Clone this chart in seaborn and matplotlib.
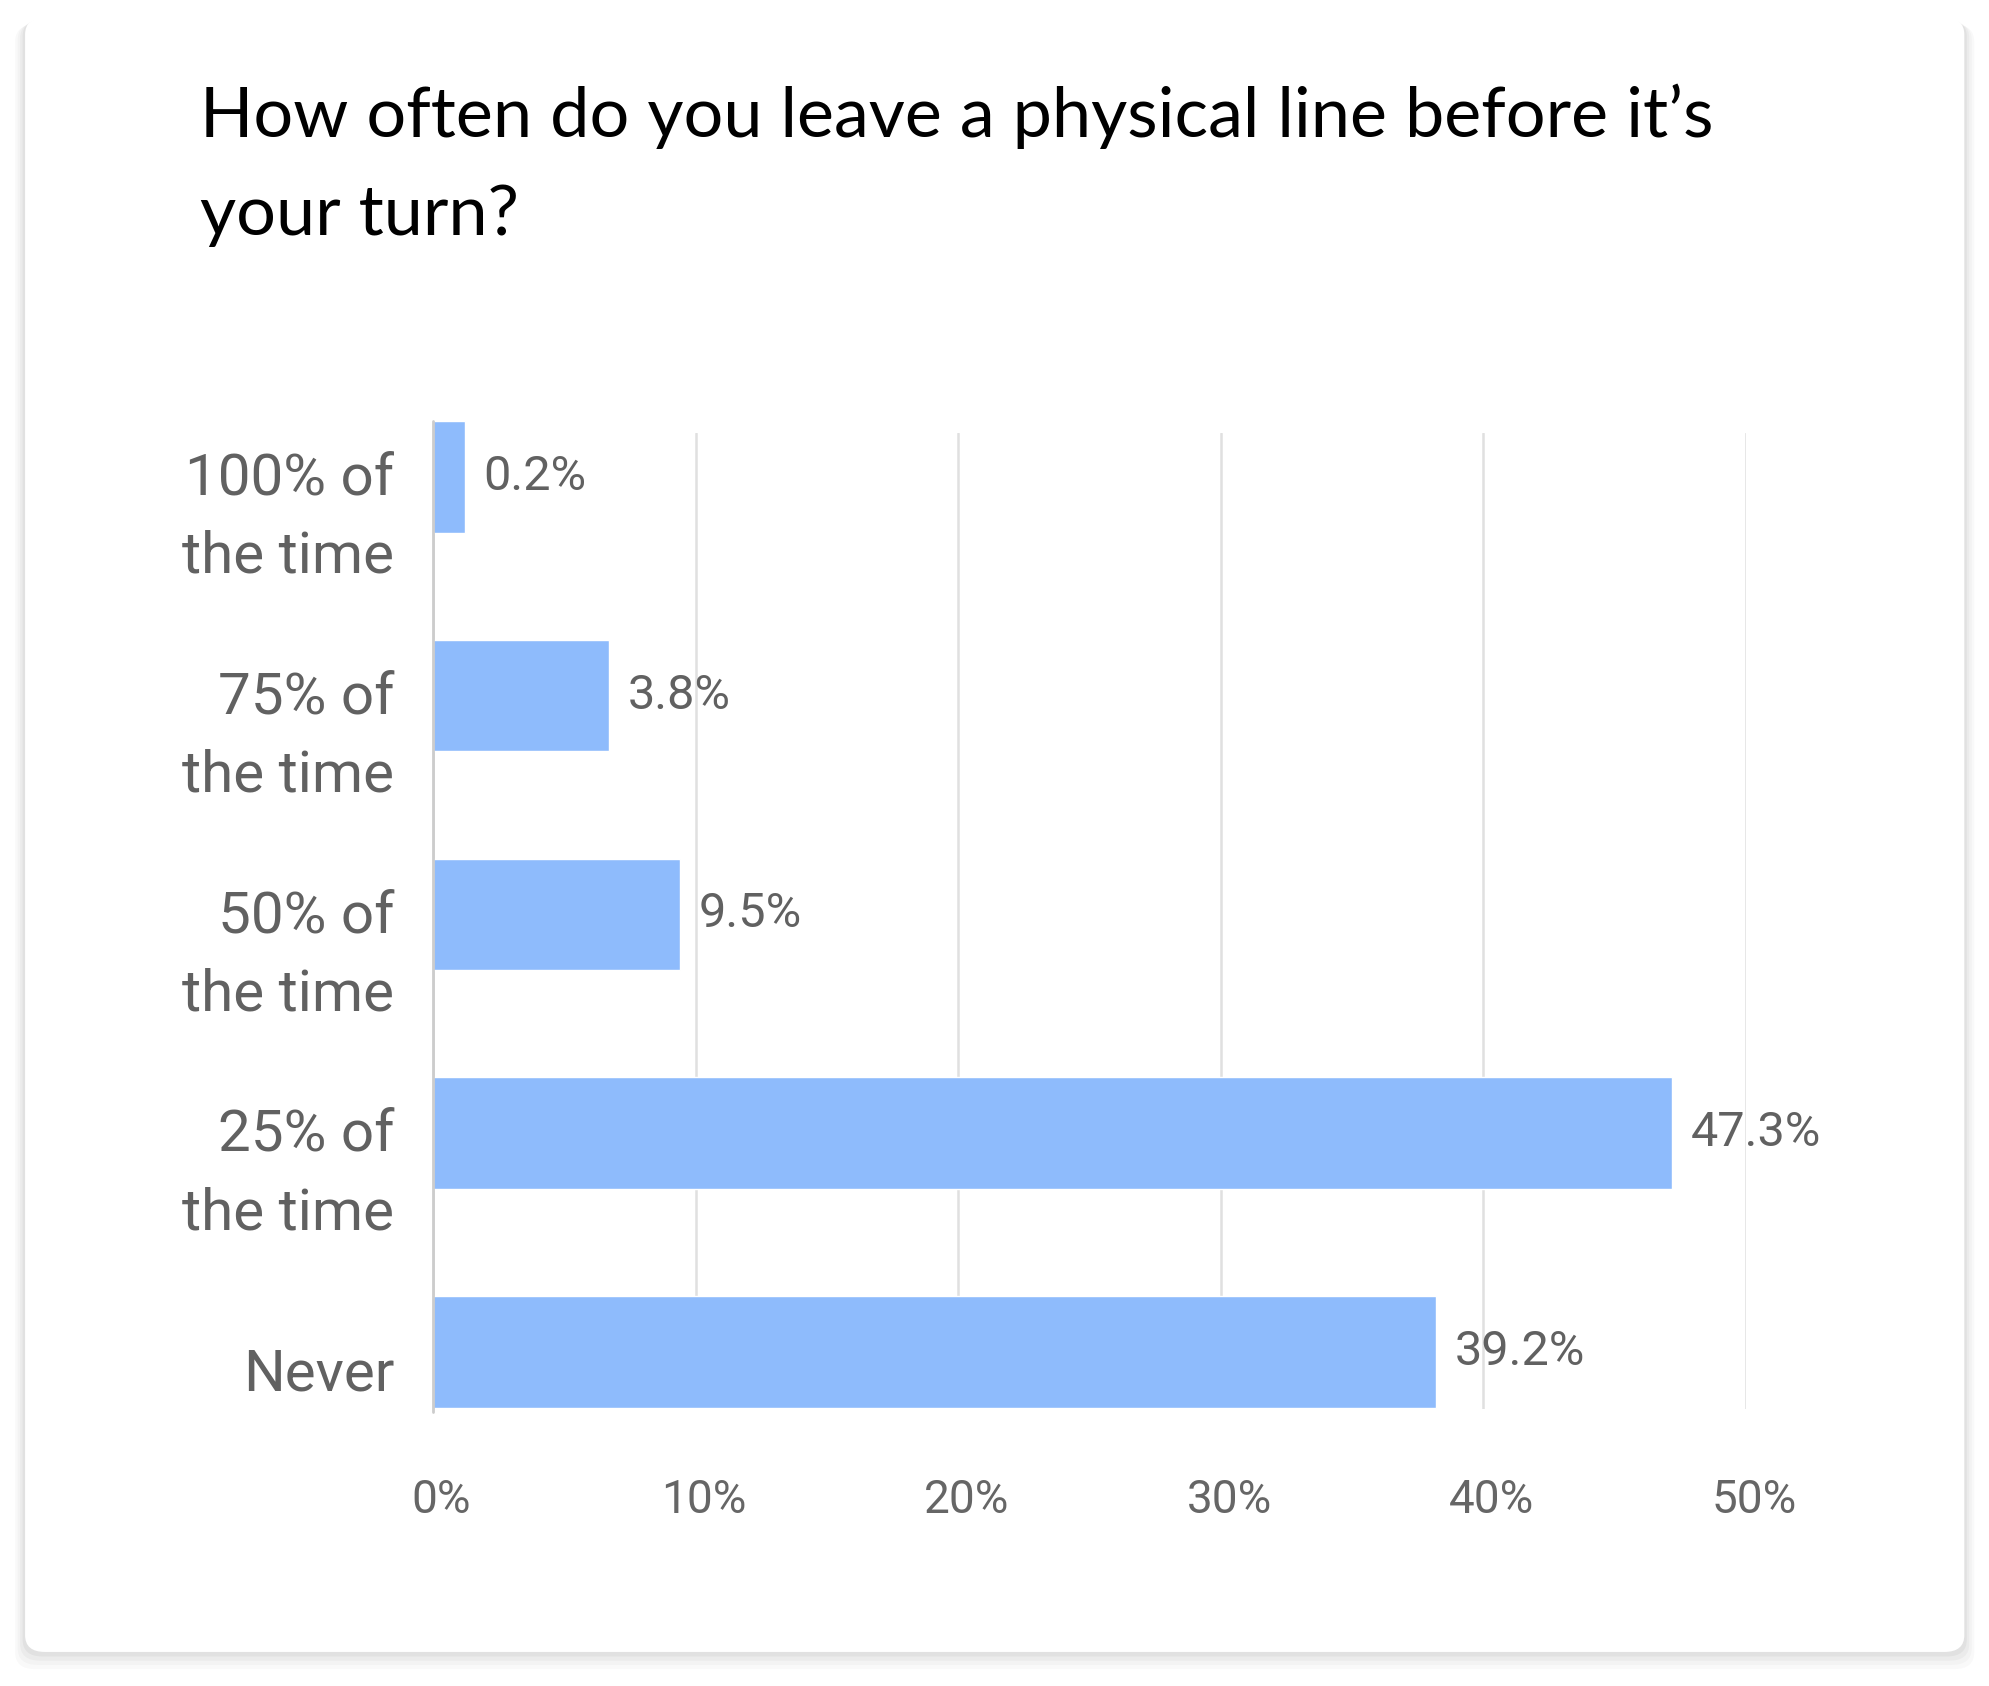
import matplotlib
matplotlib.use("Agg")
import matplotlib.pyplot as plt
import matplotlib.transforms as mtransforms
from matplotlib.patches import FancyBboxPatch
import seaborn as sns

# data
categories = ["100% of\nthe time", "75% of\nthe time", "50% of\nthe time",
              "25% of\nthe time", "Never"]
bar_values = [1.2, 6.7, 9.4, 47.2, 38.2]
value_labels = ["0.2%", "3.8%", "9.5%", "47.3%", "39.2%"]
x_ticks = [0, 10, 20, 30, 40, 50]
x_tick_labels = ["0%", "10%", "20%", "30%", "40%", "50%"]

sns.set_style("white")
plt.rcParams["font.family"] = ["Roboto", "DejaVu Sans"]

fig = plt.figure(figsize=(19.9, 16.86), dpi=100)
fig.patch.set_facecolor("white")

# card with soft shadow
for i, a in enumerate([0.025, 0.025, 0.03, 0.04]):
    pad = (4 - i) * 0.0025
    fig.patches.append(FancyBboxPatch((0.0126 - pad * 0.5, 0.020 - pad), 0.9745 + pad, 0.9693 + pad * 0.6,
                                      boxstyle="round,pad=0,rounding_size=0.01",
                                      transform=fig.transFigure, facecolor="black",
                                      edgecolor="none", alpha=a, zorder=0))
fig.patches.append(FancyBboxPatch((0.0126, 0.0202), 0.9745, 0.9693,
                                  boxstyle="round,pad=0,rounding_size=0.01",
                                  transform=fig.transFigure, facecolor="white",
                                  edgecolor="none", zorder=1))

# title (va baseline -> last line's baseline)
fig.text(0.1005, 0.8606, "How often do you leave a physical line before it\u2019s\nyour turn?",
         fontsize=50.5, family=["Lato", "DejaVu Sans"], color="black",
         ha="left", va="baseline", linespacing=1.68, zorder=5)

ax = fig.add_axes([0.2176, 0.1643, 0.6598, 0.5789])
ax.set_zorder(3)
ax.patch.set_alpha(0)

sns.barplot(x=bar_values, y=categories, orient="h", color="#8ebbfc",
            width=0.51, saturation=1, ax=ax, zorder=3)
for p in ax.patches:
    p.set_clip_on(False)

ax.set_xlim(0, 50)
ax.set_ylim(4.26, -0.2)
ax.set_xticks(x_ticks)
ax.set_xticklabels(x_tick_labels)
ax.grid(axis="x", color="#e0e0e0", linewidth=1.8)
ax.axvline(0, color="#cccccc", linewidth=2, zorder=4, ymin=-0.003, ymax=1.012, clip_on=False)
for s in ax.spines.values():
    s.set_visible(False)

ax.tick_params(axis="x", length=0, pad=50, labelsize=33, labelcolor="#666666")
ax.tick_params(axis="y", length=0, pad=28, labelsize=42, labelcolor="#616161")
for lab in ax.get_yticklabels():
    lab.set_linespacing(1.55)
    shift = -17 if "\n" in lab.get_text() else -12
    lab.set_transform(lab.get_transform() + mtransforms.ScaledTranslation(0, shift / 72, fig.dpi_scale_trans))
for lab in ax.get_xticklabels():
    lab.set_transform(lab.get_transform() + mtransforms.ScaledTranslation(6 / 72, 0, fig.dpi_scale_trans))

ax.set_xlabel("")
ax.set_ylabel("")

for i, (v, t) in enumerate(zip(bar_values, value_labels)):
    ax.text(v + 0.7, i, t, va="center", ha="left", fontsize=35, color="#616161", zorder=5)

fig.savefig("out.png", dpi=100, facecolor="white")
